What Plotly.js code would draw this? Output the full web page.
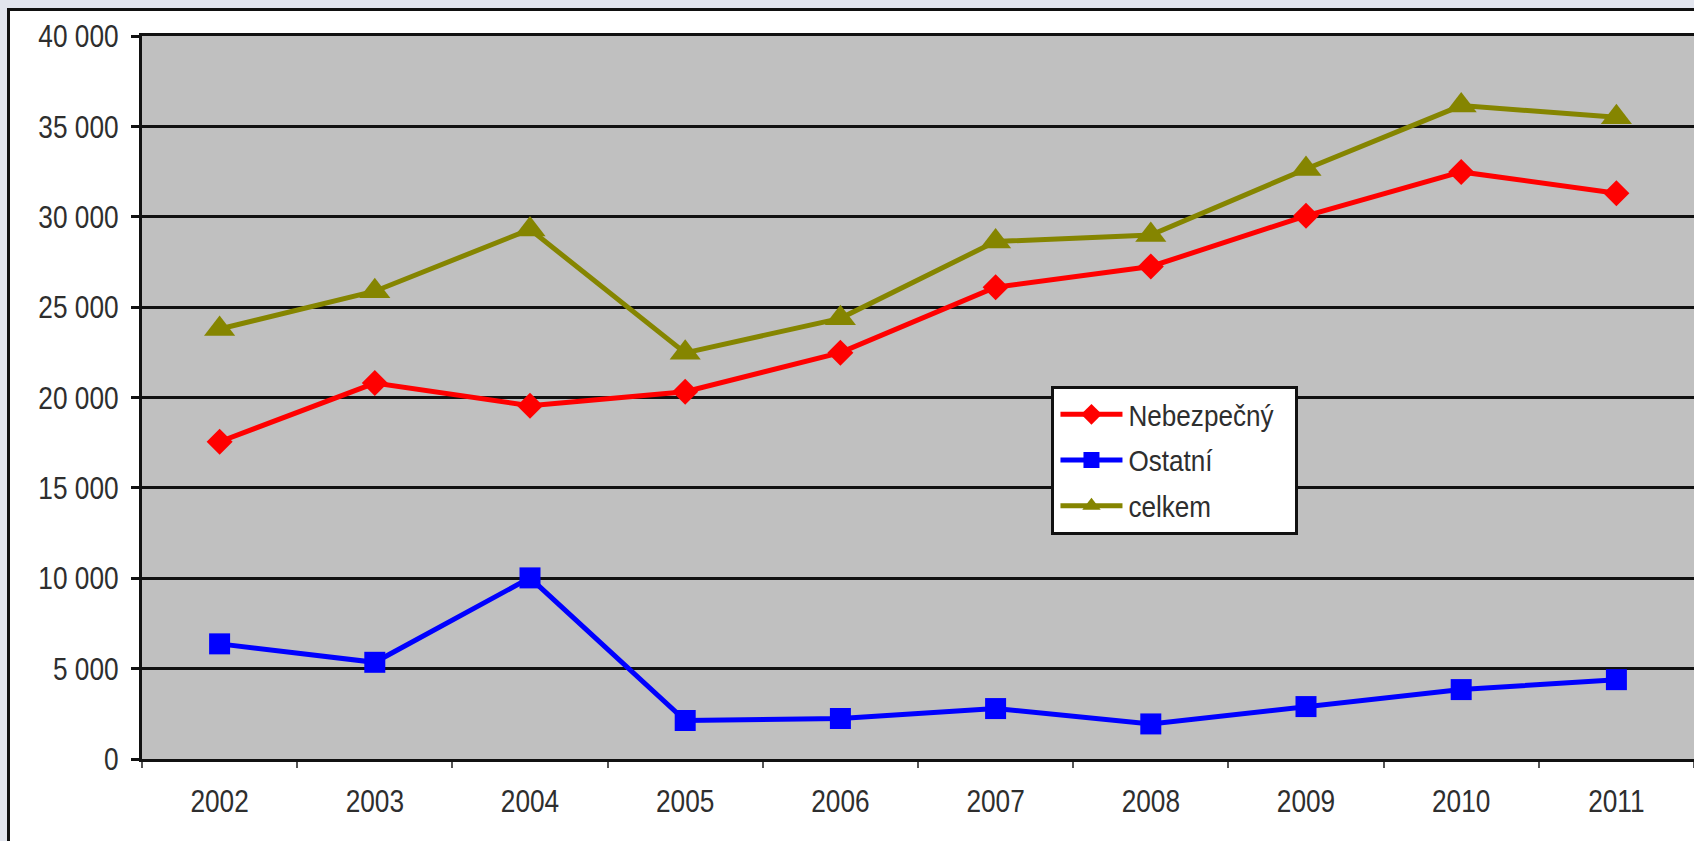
<!DOCTYPE html>
<html><head><meta charset="utf-8">
<script src="https://cdn.plot.ly/plotly-3.0.1.min.js"></script>
<style>
html,body{margin:0;padding:0;background:#e2e5ee;width:1694px;height:841px;overflow:hidden;}
#frame{position:absolute;left:7px;top:8px;width:1700px;height:840px;background:#fff;border:3px solid #111;}
#chart{position:absolute;left:0;top:0;width:1694px;height:841px;}
</style></head>
<body>
<div id="frame"></div>
<div id="chart"></div>
<script>
const years = ['2002','2003','2004','2005','2006','2007','2008','2009','2010','2011'];
const nebezpecny = [17550, 20800, 19550, 20320, 22480, 26100, 27250, 30050, 32480, 31300];
const ostatni = [6370, 5350, 10020, 2130, 2240, 2790, 1940, 2900, 3840, 4390];
const celkem = [23790, 25880, 29300, 22470, 24380, 28630, 28990, 32640, 36150, 35500];
const seriesNames = ['Nebezpečný', 'Ostatní', 'celkem'];

const FONT = '"Liberation Sans", Arial, sans-serif';
const TXT = '#2e2e2e';

const traces = [
  {x: years, y: nebezpecny, name: seriesNames[0], legendgroup: 'a', type: 'scatter', mode: 'lines+markers',
   line: {color: '#ff0000', width: 5}, marker: {symbol: 'diamond', size: 20, color: '#ff0000'}},
  {x: years, y: ostatni, name: seriesNames[1], legendgroup: 'b', type: 'scatter', mode: 'lines+markers',
   line: {color: '#0000ff', width: 5}, marker: {symbol: 'square', size: 21, color: '#0000ff'}},
  {x: years, y: celkem, name: seriesNames[2], legendgroup: 'c', type: 'scatter', mode: 'lines+markers',
   line: {color: '#858500', width: 5}, marker: {symbol: 'triangle-up', size: 27, color: '#858500'}}
];

const layout = {
  width: 1694, height: 841,
  margin: {l: 142, r: 0, t: 36, b: 82},
  paper_bgcolor: 'rgba(0,0,0,0)',
  plot_bgcolor: '#c0c0c0',
  separators: ', ',
  showlegend: true,
  font: {family: FONT, color: TXT, size: 30},
  xaxis: {
    type: 'category', tickson: 'boundaries', range: [-0.5, 9.5],
    showline: true, linecolor: '#111', linewidth: 3, mirror: true,
    ticks: 'outside', ticklen: 6, tickwidth: 2, tickcolor: '#555',
    ticklabelstandoff: 12,
    showgrid: false, zeroline: false,
    tickfont: {family: FONT, size: 32, color: TXT}
  },
  yaxis: {
    range: [0, 40000], dtick: 5000, tickformat: ',d',
    showline: true, linecolor: '#111', linewidth: 3, mirror: true,
    ticks: 'outside', ticklen: 8, tickwidth: 3, tickcolor: '#111',
    ticklabelstandoff: 6,
    showgrid: true, gridcolor: '#111', gridwidth: 3, zeroline: false,
    tickfont: {family: FONT, size: 32, color: TXT}
  },
  legend: {
    x: 0.586, y: 0.516, xanchor: 'left', yanchor: 'top',
    bgcolor: '#ffffff', bordercolor: '#111', borderwidth: 3,
    font: {family: FONT, size: 29, color: TXT},
    traceorder: 'grouped', tracegroupgap: 5,
    itemwidth: 64
  }
};

function condense(gd) {
  const items = [['.xtick text, .ytick text', 0.82], ['.legendtext', 0.9]];
  items.forEach(([sel, k]) => {
    gd.querySelectorAll(sel).forEach(t => {
      if (t.getAttribute('data-cond')) return;
      const x = parseFloat(t.getAttribute('x') || '0');
      const tr = t.getAttribute('transform') || '';
      t.setAttribute('transform', tr + ' translate(' + x + ',0) scale(' + k + ',1) translate(' + (-x) + ',0)');
      t.setAttribute('data-cond', '1');
    });
  });
  // lengthen legend sample lines to the width of the item area
  gd.querySelectorAll('.legendlines path').forEach(p => p.setAttribute('d', 'M6,0h62'));
  gd.querySelectorAll('.legendpoints .scatterpts').forEach(p => {
    p.setAttribute('transform', 'translate(37,0)');
  });
}

Plotly.newPlot('chart', traces, layout, {displayModeBar: false, staticPlot: true}).then(gd => condense(gd));
</script>
</body></html>
